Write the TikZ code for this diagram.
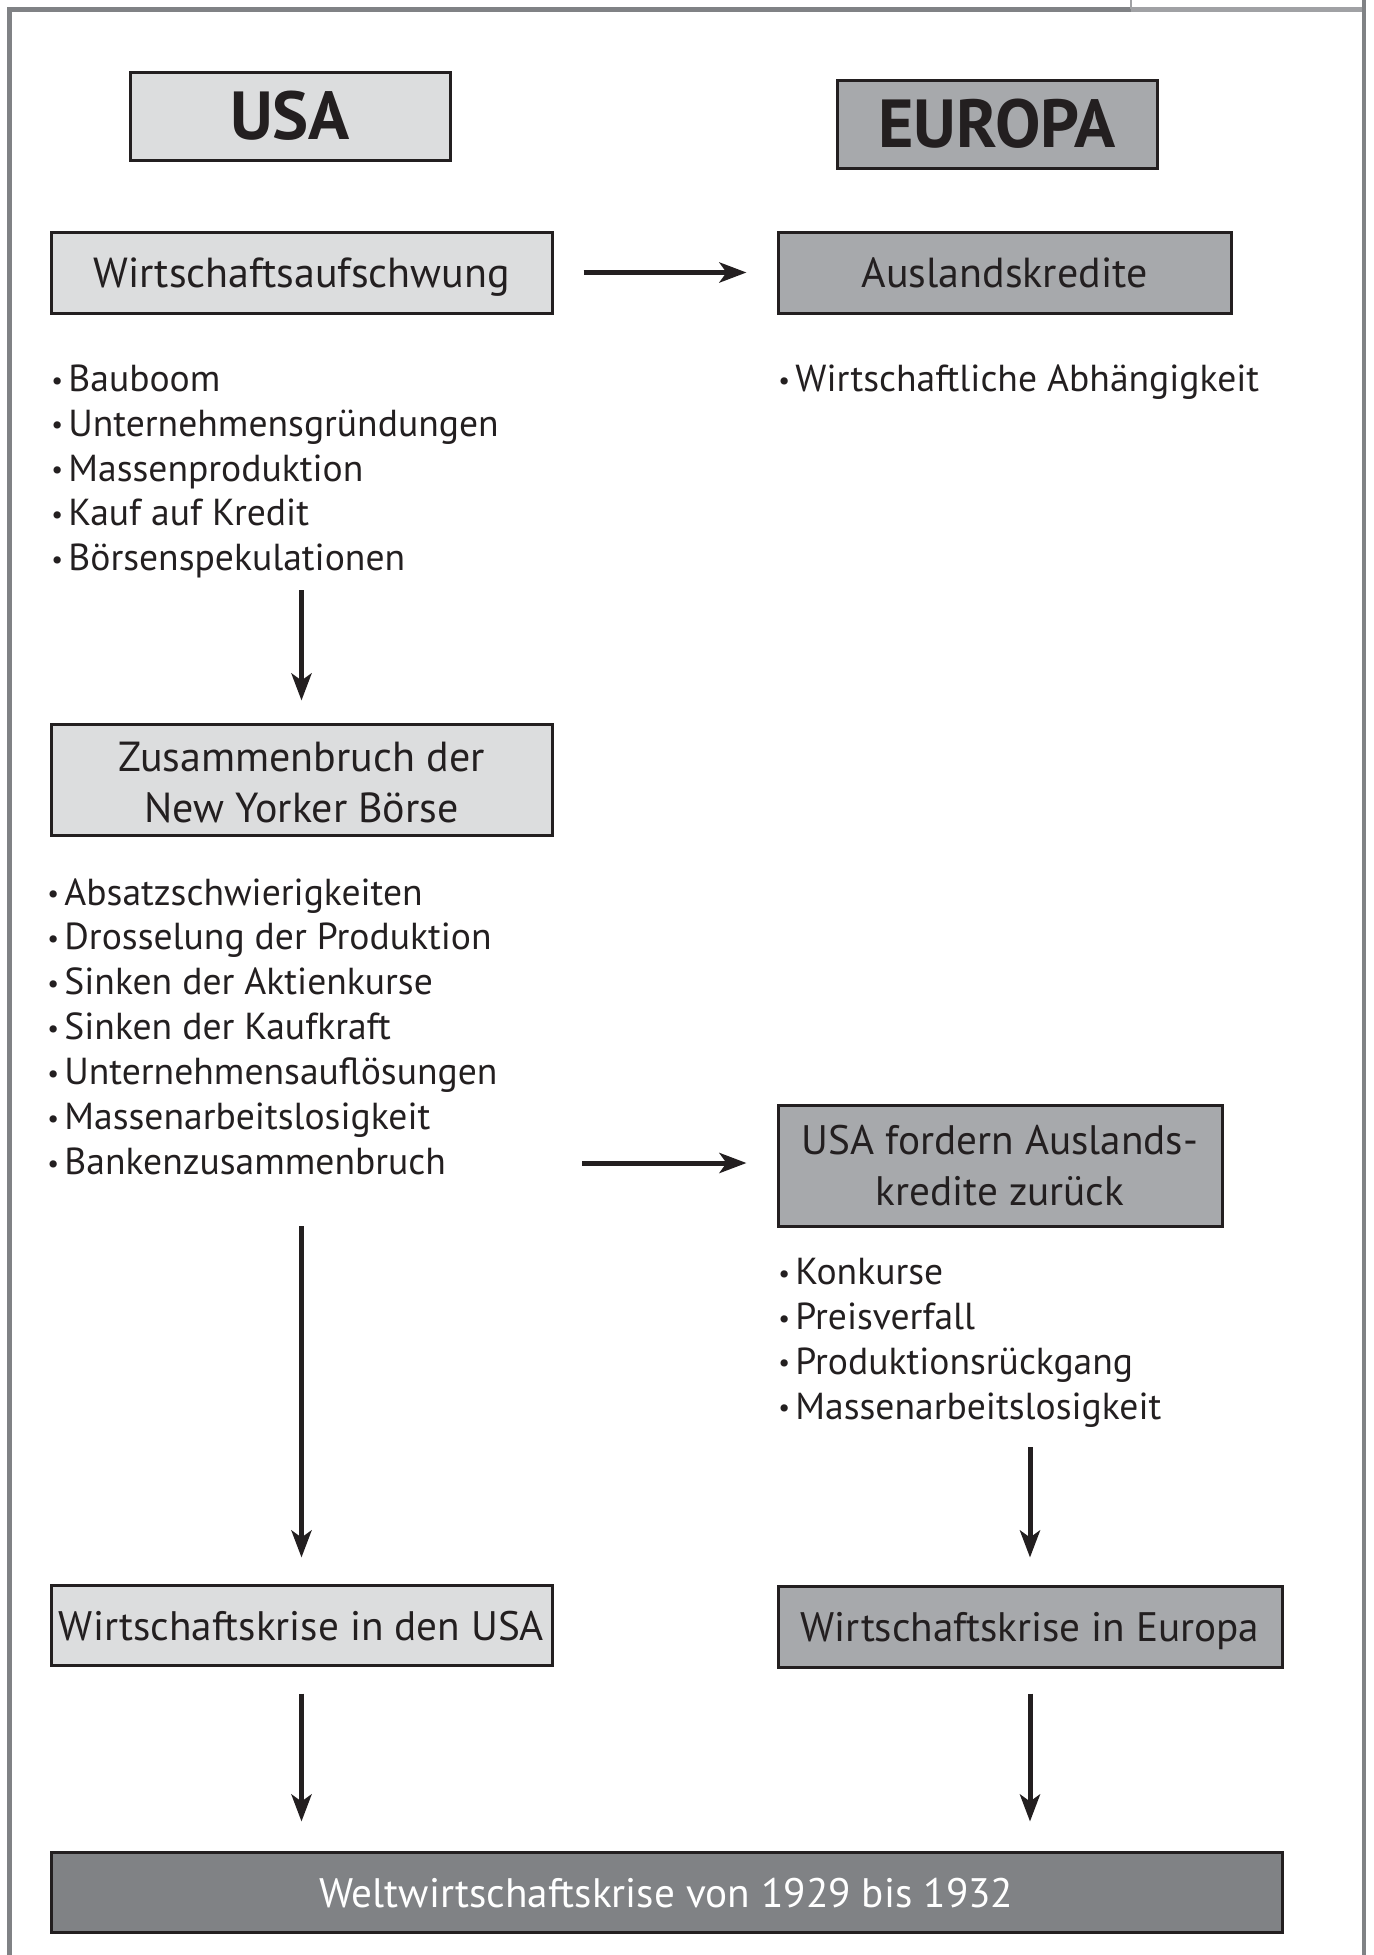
\documentclass[tikz,border=0pt]{standalone}
\usepackage{fontspec}
\setmainfont{PT Sans}
\usetikzlibrary{arrows.meta}
\definecolor{ink}{HTML}{231F20}
\definecolor{grayA}{HTML}{DCDDDE}
\definecolor{grayB}{HTML}{A7A9AC}
\definecolor{grayC}{HTML}{808285}
\definecolor{framegray}{HTML}{808285}
\definecolor{framelight}{HTML}{A0A1A4}
% small list bullet followed by a fixed gap
\newcommand{\bul}{\makebox[8.5pt][l]{\raisebox{1.2pt}{\fontsize{13}{13}\selectfont•}}}
% two-line box text, first baseline placed by the given depth
\newcommand{\twolines}[3]{\raisebox{0pt}[0pt][#1]{\begin{tabular}[t]{@{}c@{}}#2\\#3\end{tabular}}}

\begin{document}
\begin{tikzpicture}[x=0.5pt,y=-0.5pt,
  box/.style={draw=ink,line width=1.5pt,inner sep=0pt,text=ink,align=center,
              font=\fontsize{21}{25.5}\selectfont},
  one/.style={text height=15pt,text depth=0pt},
  small/.style={font=\fontsize{20.6}{25.5}\selectfont},
  light/.style={box,fill=grayA},
  mid/.style={box,fill=grayB},
  dark/.style={box,fill=grayC,text=white},
  title/.style={font=\fontsize{34}{36}\selectfont\bfseries},
  item/.style={anchor=base west,inner sep=0pt,text=ink,font=\fontsize{18.8}{22.5}\selectfont},
  arr/.style={draw=ink,line width=2.5pt,-{Stealth[length=13.5pt,width=10pt,inset=3.5pt]}},
  frame/.style={draw=framegray,line width=2.5pt}]

\useasboundingbox (0,0) rectangle (1373,1955);

% outer frame, open at the bottom
\draw[frame] (9,1955) -- (9,9) -- (1131,9);
\draw[draw=framelight,line width=2.5pt] (1131,9) -- (1364,9);
\draw[draw=framelight,line width=1pt] (1131,0) -- (1131,9);
\draw[frame,line width=2pt] (1364,0) -- (1364,1955);

% column headings
\node[light,title,minimum width=160pt,minimum height=44pt] (usa) at (290,116) {USA};
\node[mid,title,minimum width=160pt,minimum height=44pt] (europa) at (997,124) {EUROPA};

% boxes
\node[light,one,minimum width=250.5pt,minimum height=40.5pt] (aufschwung) at (301.5,272.5) {Wirtschaftsaufschwung};
\node[mid,one,minimum width=226.5pt,minimum height=40.5pt] (kredite) at (1004.5,272.5) {Auslandskredite};
\node[light,minimum width=250.5pt,minimum height=55.5pt] (boerse) at (301.5,779.5)
  {\twolines{8.5pt}{Zusammenbruch der}{New Yorker Börse}};
\node[mid,small,minimum width=222pt,minimum height=60.5pt] (fordern) at (1000,1165.5)
  {\twolines{11.5pt}{USA fordern Auslands-}{kredite zurück}};
\node[light,small,one,minimum width=250.5pt,minimum height=40pt] (krise-usa) at (301.5,1625) {Wirtschaftskrise in den USA};
\node[mid,small,one,minimum width=252pt,minimum height=40.5pt] (krise-eu) at (1030,1626.5) {Wirtschaftskrise in Europa};
\node[dark,small,one,minimum width=615.5pt,minimum height=40pt] (welt) at (666.5,1892) {Weltwirtschaftskrise von 1929 bis 1932};

% bullet lists
\foreach \t [count=\i from 0] in {Bauboom,Unternehmensgründungen,Massenproduktion,Kauf auf Kredit,Börsenspekulationen}
  \node[item] (a\i) at (51,391.5+44.8*\i) {\bul\t};
\node[item] (b0) at (778,391.5) {\bul Wirtschaftliche Abhängigkeit};
\foreach \t [count=\i from 0] in {Absatzschwierigkeiten,Drosselung der Produktion,Sinken der Aktienkurse,Sinken der Kaufkraft,Unternehmensauflösungen,Massenarbeitslosigkeit,Bankenzusammenbruch}
  \node[item] (c\i) at (47,905+44.9*\i) {\bul\t};
\foreach \t [count=\i from 0] in {Konkurse,Preisverfall,Produktionsrückgang,Massenarbeitslosigkeit}
  \node[item] (d\i) at (778,1284.5+44.9*\i) {\bul\t};

% free ends of the arrows below the lists
\coordinate (s1) at (301.5,590);
\coordinate (s2) at (582,1163);
\coordinate (s3) at (301.5,1226);
\coordinate (s4) at (1030,1447);

% connectors
\draw[arr,shorten <=15pt,shorten >=15pt] (aufschwung.east) -- (kredite.west);
\draw[arr,shorten >=11pt] (s1) -- (boerse.north);
\draw[arr,shorten >=15pt] (s2) -- (s2 -| fordern.west);
\draw[arr,shorten >=13pt] (s3) -- (krise-usa.north);
\draw[arr,shorten >=13.5pt] (s4) -- (krise-eu.north);
\draw[arr,shorten <=13.5pt,shorten >=14.5pt] (krise-usa.south) -- (krise-usa.south |- welt.north);
\draw[arr,shorten <=12.5pt,shorten >=14.5pt] (krise-eu.south) -- (krise-eu.south |- welt.north);
\end{tikzpicture}
\end{document}
